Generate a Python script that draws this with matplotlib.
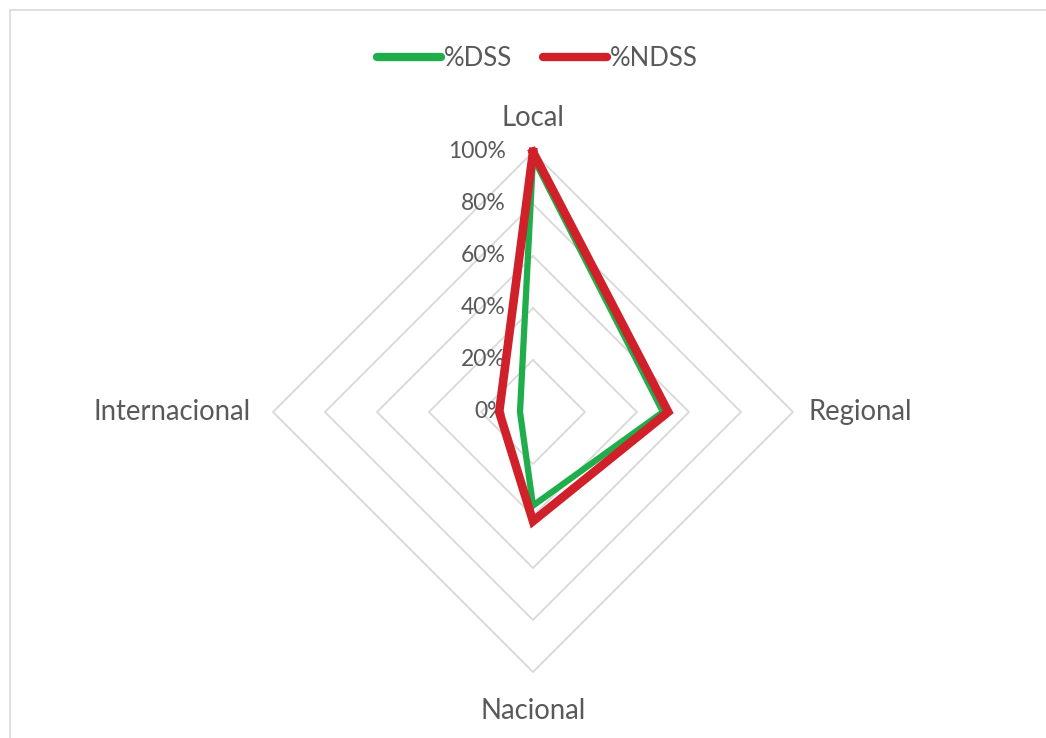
import numpy as np
import matplotlib.pyplot as plt
from matplotlib.patches import Rectangle

categories = ['Local', 'Regional', 'Nacional', 'Internacional']
dss = [0.98, 0.50, 0.36, 0.05]
ndss = [1.00, 0.52, 0.42, 0.13]
ticks = [0.0, 0.2, 0.4, 0.6, 0.8, 1.0]
tick_labels = ['0%', '20%', '40%', '60%', '80%', '100%']

plt.rcParams['font.family'] = ['Lato', 'DejaVu Sans']
txt = '#595959'
grid_c = '#d9d9d9'

# angles clockwise from the top
ang = np.arange(len(categories)) * 2 * np.pi / len(categories)

def to_xy(vals):
    v = np.append(vals, vals[0])
    a = np.append(ang, ang[0])
    return v * np.sin(a), v * np.cos(a)

fig = plt.figure(figsize=(10.46, 7.38), dpi=100)
ax = fig.add_axes([0, 0, 1, 1])
ppu = 260.0
ax.set_xlim(-533 / ppu, (1046 - 533) / ppu)
ax.set_ylim(-(738 - 412) / ppu, 412 / ppu)
ax.axis('off')

# outer frame
fig.patches.append(Rectangle((10 / 1046, -0.1), 1.2, (728 / 738) + 0.1,
                             transform=fig.transFigure, fill=False,
                             edgecolor=grid_c, lw=1.2))

# diamond grid
for t in ticks[1:]:
    gx, gy = to_xy([t] * len(categories))
    ax.plot(gx, gy, color=grid_c, lw=1.3, zorder=1)

# radial tick labels
for t, lab in zip(ticks, tick_labels):
    ax.text(-0.105, t, lab, ha='right', va='center', fontsize=16.5, color=txt, zorder=2)

# category labels
ax.text(0, 1.13, categories[0], ha='center', va='center', fontsize=19.8, color=txt)
ax.text(1.058, 0, categories[1], ha='left', va='center', fontsize=19.8, color=txt)
ax.text(0, -1.15, categories[2], ha='center', va='center', fontsize=19.8, color=txt)
ax.text(-1.085, 0, categories[3], ha='right', va='center', fontsize=19.8, color=txt)

x1, y1 = to_xy(dss)
x2, y2 = to_xy(ndss)
l1, = ax.plot(x1, y1, color='#1fae4b', lw=4.5, solid_joinstyle='miter', zorder=3, label='%DSS')
l2, = ax.plot(x2, y2, color='#d0202a', lw=6.2, solid_joinstyle='miter', zorder=4, label='%NDSS')

leg = fig.legend(handles=[l1, l2], loc='center', bbox_to_anchor=(537 / 1046, 1 - 58 / 738),
                 ncol=2, frameon=False, fontsize=18.5, handlelength=2.5,
                 handletextpad=0.1, columnspacing=1.2)
for h in leg.get_lines():
    h.set_solid_capstyle('round')
    h.set_linewidth(6.0)
for t in leg.get_texts():
    t.set_color(txt)

fig.savefig('out.png', dpi=100)
